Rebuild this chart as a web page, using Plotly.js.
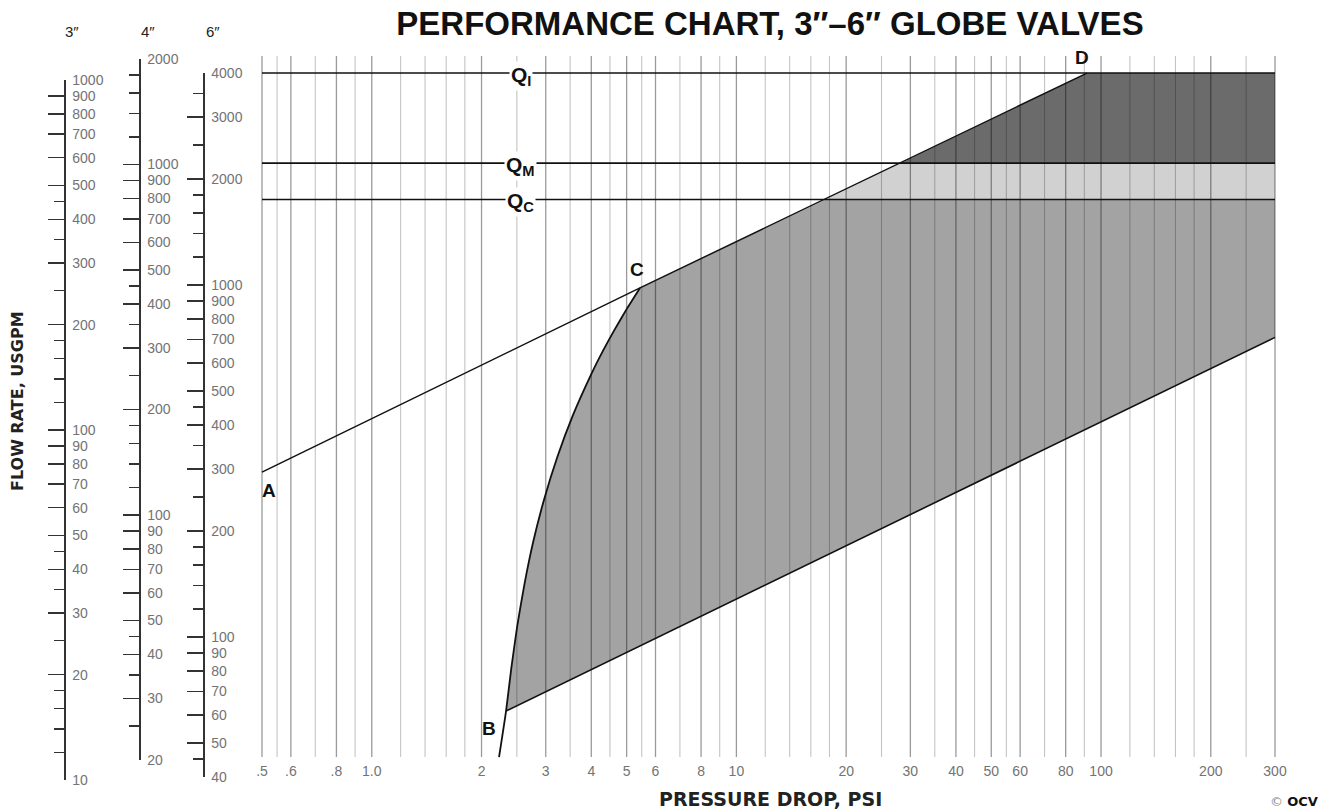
<!DOCTYPE html>
<html>
<head>
<meta charset="utf-8">
<script src="https://cdn.plot.ly/plotly-3.0.1.min.js"></script>
<style>html,body{margin:0;padding:0;background:#fff;}#chart{width:1321px;height:811px;}</style>
</head>
<body>
<div id="chart"></div>
<script>
// ---------- DATA ----------
const pressureTicks = [0.5, 0.6, 0.8, 1, 2, 3, 4, 5, 6, 8, 10, 20, 30, 40, 50, 60, 80, 100, 200, 300];
const pressureTickText = ['.5', '.6', '.8', '1.0', '2', '3', '4', '5', '6', '8', '10', '20', '30', '40', '50', '60', '80', '100', '200', '300'];
const pressureMinor = [0.55, 0.7, 0.9, 1.2, 1.4, 1.6, 1.8, 2.5, 3.5, 4.5, 5.5, 7, 9, 12, 14, 16, 18, 25, 35, 45, 55, 70, 90, 120, 140, 160, 180, 250];

const flow3Ticks = [10, 20, 30, 40, 50, 60, 70, 80, 90, 100, 200, 300, 400, 500, 600, 700, 800, 900, 1000];
const flow3Minor = [12, 14, 16, 18, 25, 35, 45, 120, 140, 160, 180, 250, 350, 450];
const flow4Ticks = [20, 30, 40, 50, 60, 70, 80, 90, 100, 200, 300, 400, 500, 600, 700, 800, 900, 1000, 2000];
const flow4Minor = [25, 35, 45, 120, 140, 160, 180, 250, 350, 450, 1200, 1400, 1600, 1800];
const flow6Ticks = [40, 50, 60, 70, 80, 90, 100, 200, 300, 400, 500, 600, 700, 800, 900, 1000, 2000, 3000, 4000];
const flow6Minor = [45, 120, 140, 160, 180, 250, 350, 450, 1200, 1400, 1600, 1800, 2500, 3500];

const qNames = ['I', 'M', 'C'];
const qLevels = [4000, 2220, 1750];

// line A - C - D
const lineAD_x = [0.5, 5.44, 91.5];
const lineAD_y = [294, 981, 4000];
// curve (below B) - B - C
const curveBC_x = [2.234, 2.335, 2.413, 2.505, 2.623, 2.772, 2.969, 3.226, 3.565, 4.018, 4.298, 4.622, 5.00, 5.44];
const curveBC_y = [45.6, 61.6, 81.3, 107.2, 141.4, 186.4, 245.9, 324.2, 427.6, 563.8, 647.6, 743.4, 853.9, 981];
// lower boundary B - right edge
const lower_x = [2.335, 300];
const lower_y = [61.6, 710];
// crossings of line C-D with Q_C and Q_M
const crossQC = [17.6, 1750];
const crossQM = [28.3, 2220];

// ---------- BUILD ----------
const xMin = pressureTicks[0], xMax = pressureTicks[pressureTicks.length - 1];
const gridTop = 4470, gridBottom = 45.6;
function vlines(vals) {
  const xs = [], ys = [];
  vals.forEach(v => { xs.push(v, v, null); ys.push(gridTop, gridBottom, null); });
  return {xs, ys};
}
const gMinor = vlines(pressureMinor), gMajor = vlines(pressureTicks);

const traces = [];
traces.push({x: gMinor.xs, y: gMinor.ys, mode: 'lines', line: {color: '#c4c4c4', width: 1.1}, hoverinfo: 'skip'});
traces.push({x: gMajor.xs, y: gMajor.ys, mode: 'lines', line: {color: '#9a9a9a', width: 1.3}, hoverinfo: 'skip'});

// medium region
const medX = curveBC_x.slice(1).concat([crossQC[0], xMax, lower_x[1], lower_x[0]]);
const medY = curveBC_y.slice(1).concat([crossQC[1], qLevels[2], lower_y[1], lower_y[0]]);
traces.push({x: medX, y: medY, mode: 'lines', fill: 'toself', fillcolor: 'rgba(0,0,0,0.36)', line: {width: 0}, hoverinfo: 'skip'});
// light band
traces.push({x: [crossQC[0], crossQM[0], xMax, xMax], y: [crossQC[1], crossQM[1], qLevels[1], qLevels[2]],
  mode: 'lines', fill: 'toself', fillcolor: 'rgba(0,0,0,0.18)', line: {width: 0}, hoverinfo: 'skip'});
// dark region
traces.push({x: [crossQM[0], lineAD_x[2], xMax, xMax], y: [crossQM[1], lineAD_y[2], qLevels[0], qLevels[1]],
  mode: 'lines', fill: 'toself', fillcolor: 'rgba(0,0,0,0.58)', line: {width: 0}, hoverinfo: 'skip'});

// Q lines
qLevels.forEach(q => traces.push({x: [xMin, xMax], y: [q, q], mode: 'lines', line: {color: '#111', width: 1.6}, hoverinfo: 'skip'}));
traces.push({x: lineAD_x, y: lineAD_y, mode: 'lines', line: {color: '#111', width: 1.5}, hoverinfo: 'skip'});
traces.push({x: curveBC_x, y: curveBC_y, mode: 'lines', line: {color: '#111', width: 1.8, shape: 'spline', smoothing: 0.5}, hoverinfo: 'skip'});
traces.push({x: lower_x, y: lower_y, mode: 'lines', line: {color: '#111', width: 1.6}, hoverinfo: 'skip'});

// dummy traces to show the three size scales
['y2', 'y3', 'y4'].forEach(ya => traces.push({x: [null], y: [null], xaxis: 'x', yaxis: ya, mode: 'markers', hoverinfo: 'skip'}));

const W = 1321, H = 811, mT = 45, mB = 16;
const plotH = H - mT - mB;
const fy = p => (H - mB - p) / plotH;   // pixel -> domain fraction
const fx = p => p / W;

const tickFont = {family: 'Liberation Sans, Arial, sans-serif', size: 14, color: '#737373'};
function scaleAxis(ticks, minor, lo, hi, pTop, pBot, xpix) {
  return {
    type: 'log', range: [Math.log10(lo), Math.log10(hi)],
    domain: [fy(pBot), fy(pTop)], anchor: 'free', position: fx(xpix), side: 'right',
    tickmode: 'array', tickvals: ticks, ticktext: ticks.map(String),
    ticks: 'inside', ticklen: 16, tickwidth: 1.5, tickcolor: '#333', ticklabelstandoff: 4,
    minor: {tickmode: 'array', tickvals: minor, ticks: 'inside', ticklen: 10, tickwidth: 1.5, tickcolor: '#333', showgrid: false},
    showline: true, linecolor: '#333', linewidth: 1.5, showgrid: false, zeroline: false,
    tickfont: tickFont, fixedrange: true
  };
}

const xr0 = Math.log10(xMin) - 7 / 364.6, xr1 = Math.log10(xMax) + 7 / 364.6;
const yTopLog = 3 + (285 - mT) / 352, yBotLog = 3 - (H - mB - 285) / 352;

const annFont = {family: 'Liberation Sans, Arial, sans-serif', size: 21, color: '#111'};
const annotations = [];
qLevels.forEach((q, i) => annotations.push({
  xref: 'x', yref: 'y', x: 0.409, y: Math.log10(q), yshift: -3, xanchor: 'center', yanchor: 'middle',
  text: '<b>Q<sub>' + qNames[i] + '</sub></b>', showarrow: false, bgcolor: '#fff', borderpad: 1, font: annFont
}));
const ptLabel = (t, x, y, dx, dy) => ({xref: 'x', yref: 'y', x: Math.log10(x), y: Math.log10(y), xshift: dx, yshift: dy,
  xanchor: 'center', yanchor: 'middle',
  text: '<b>' + t + '</b>', showarrow: false, font: {family: 'Liberation Sans, Arial, sans-serif', size: 19, color: '#111'}});
annotations.push(ptLabel('A', lineAD_x[0], lineAD_y[0], 7, -18));
annotations.push(ptLabel('B', lower_x[0], lower_y[0], -17, -17));
annotations.push(ptLabel('C', lineAD_x[1], lineAD_y[1], -3, 18));
annotations.push(ptLabel('D', lineAD_x[2], lineAD_y[2], -5, 16));
const hdrFont = {family: 'Liberation Sans Narrow, Liberation Sans, Arial, sans-serif', size: 15, color: '#222'};
[['3″', 72], ['4″', 148], ['6″', 213]].forEach(h => annotations.push({xref: 'paper', yref: 'paper', x: fx(h[1]), y: fy(31),
  xanchor: 'center', yanchor: 'middle', text: h[0], showarrow: false, font: hdrFont}));
annotations.push({xref: 'paper', yref: 'paper', x: fx(17), y: fy(401), xanchor: 'center', yanchor: 'middle', textangle: -90,
  text: '<b>FLOW RATE, USGPM</b>', showarrow: false, font: {family: 'DejaVu Sans, sans-serif', size: 16, color: '#222'}});
annotations.push({xref: 'paper', yref: 'paper', x: fx(770), y: fy(799), xanchor: 'center', yanchor: 'middle',
  text: '<b>PRESSURE DROP, PSI</b>', showarrow: false, font: {family: 'DejaVu Sans, sans-serif', size: 19, color: '#222'}});
annotations.push({xref: 'paper', yref: 'paper', x: fx(1320), xanchor: 'right', y: fy(801), yanchor: 'middle',
  text: '<span style="color:#888">©</span> <b>OCV</b>', showarrow: false,
  font: {family: 'DejaVu Sans, sans-serif', size: 13, color: '#111'}});

const layout = {
  width: W, height: H, margin: {l: 0, r: 0, t: mT, b: mB},
  paper_bgcolor: '#fff', plot_bgcolor: 'rgba(0,0,0,0)', showlegend: false,
  title: {text: '<b>PERFORMANCE CHART, 3″–6″ GLOBE VALVES</b>', x: fx(770), xanchor: 'center', xref: 'container',
    y: 1 - 23 / H, yref: 'container', yanchor: 'middle',
    font: {family: 'Liberation Sans, Arial, sans-serif', size: 33, color: '#111'}},
  xaxis: {type: 'log', range: [xr0, xr1], domain: [fx(255), fx(1282)], anchor: 'free', position: fy(761),
    tickmode: 'array', tickvals: pressureTicks, ticktext: pressureTickText, ticks: '',
    showline: false, showgrid: false, zeroline: false, tickfont: tickFont, fixedrange: true},
  yaxis: {type: 'log', range: [yBotLog, yTopLog], domain: [0, 1], anchor: 'x', visible: false, fixedrange: true},
  yaxis2: scaleAxis(flow3Ticks, flow3Minor, 10, 1000, 80, 780, 64),
  yaxis3: scaleAxis(flow4Ticks, flow4Minor, 20, 2000, 59, 760, 139),
  yaxis4: scaleAxis(flow6Ticks, flow6Minor, 40, 4000, 73, 777, 203),
  annotations: annotations
};

Plotly.newPlot('chart', traces, layout, {displayModeBar: false, staticPlot: true});
</script>
</body>
</html>
